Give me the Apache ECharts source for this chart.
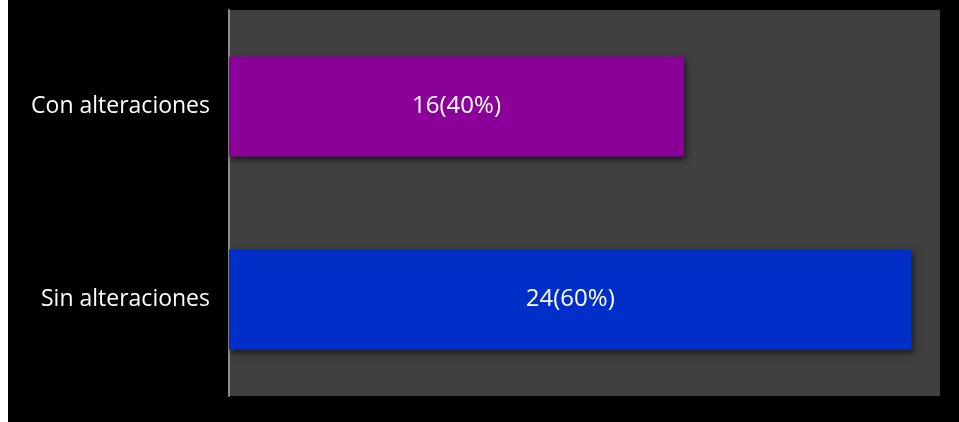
<!DOCTYPE html>
<html>
<head>
<meta charset="utf-8">
<script src="https://cdn.jsdelivr.net/npm/echarts@6/dist/echarts.min.js"></script>
<style>
  html, body { margin: 0; padding: 0; background: #fff; }
  #chart { position: absolute; left: 8px; top: 0; width: 951px; height: 422px; }
</style>
</head>
<body>
<div id="chart"></div>
<script>
// categories bottom -> top
const categories = ['Sin alteraciones', 'Con alteraciones'];
const counts = [24, 16];
const percents = [60, 40];
const barColors = ['#002ec8', '#8a0099'];

const chart = echarts.init(document.getElementById('chart'));

const option = {
  backgroundColor: '#000',
  animation: false,
  grid: {
    left: 221, right: 19, top: 10, bottom: 26,
    show: true, backgroundColor: '#404040', borderWidth: 0
  },
  xAxis: {
    type: 'value', min: 0, max: 25,
    axisLabel: { show: false }, axisLine: { show: false },
    axisTick: { show: false }, splitLine: { show: false }
  },
  yAxis: {
    type: 'category',
    data: categories,
    axisLine: { show: true, lineStyle: { color: '#8c8c8c', width: 2 } },
    axisTick: { show: false },
    axisLabel: { color: '#fff', fontSize: 23, fontFamily: 'Open Sans', margin: 19 }
  },
  series: [{
    type: 'bar',
    barWidth: 100,
    data: counts.map((v, i) => ({
      value: v,
      itemStyle: { color: barColors[i] }
    })),
    itemStyle: {
      shadowColor: 'rgba(0,0,0,0.55)', shadowBlur: 6,
      shadowOffsetX: 2, shadowOffsetY: 3
    },
    label: {
      show: true, position: 'inside', color: '#fff',
      fontSize: 24, fontFamily: 'Open Sans',
      formatter: p => counts[p.dataIndex] + '(' + percents[p.dataIndex] + '%)'
    }
  }]
};
chart.setOption(option);
</script>
</body>
</html>
